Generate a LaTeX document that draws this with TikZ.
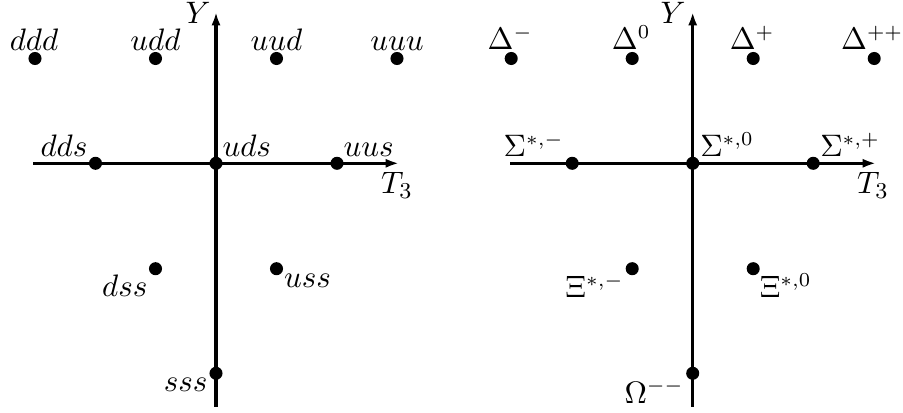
\documentclass[tikz,border=0pt]{standalone}
\usetikzlibrary{arrows.meta,calc}
\begin{document}
\begin{tikzpicture}[x=0.3527pt,y=-0.3527pt,
  dot/.style={circle,fill=black,inner sep=0pt,minimum size=4.6pt},
  axis/.style={line width=1.2pt,-{Latex[length=4.7pt,width=3.2pt]}},
  lab/.style={inner sep=0pt,font=\fontsize{11}{13}\selectfont},
  glab/.style={inner sep=0pt,font=\fontsize{10.5}{12.5}\selectfont}]
\useasboundingbox (0,0) rectangle (903,413);
% ---------- left diagram ----------
\coordinate (LW) at (33,163.3);
\coordinate (LE) at (399,163.3);
\coordinate (LS) at (216,407);
\coordinate (LN) at (216,12);
\draw[axis] (LW) -- (LE);
\draw[axis] (LS) -- (LN);
\node[dot] (ddd) at (35,58.5) {};
\node[dot] (udd) at (155.5,58.5) {};
\node[dot] (uud) at (276.5,58.5) {};
\node[dot] (uuu) at (397,58.5) {};
\node[dot] (dds) at (95.5,163.3) {};
\node[dot] (uds) at (216,163.3) {};
\node[dot] (uus) at (337,163.3) {};
\node[dot] (dss) at (155.5,268.7) {};
\node[dot] (uss) at (276.5,268.7) {};
\node[dot] (sss) at (216,373.3) {};
\node[lab,anchor=base] at ($(ddd)+(-1,-7.5)$) {$ddd$};
\node[lab,anchor=base] at ($(udd)+(0,-7.5)$) {$udd$};
\node[lab,anchor=base] at ($(uud)+(0,-7.5)$) {$uud$};
\node[lab,anchor=base] at ($(uuu)+(0,-7.5)$) {$uuu$};
\node[lab,anchor=base east] at ($(dds)+(-7.5,-6.3)$) {$dds$};
\node[lab,anchor=base west] at ($(uds)+(6,-6.3)$) {$uds$};
\node[lab,anchor=base west] at ($(uus)+(6,-6.3)$) {$uus$};
\node[lab,anchor=base east] at ($(dss)+(-7.5,28)$) {$dss$};
\node[lab,anchor=base west] at ($(uss)+(7,19)$) {$uss$};
\node[lab,anchor=base east] at ($(sss)+(-8,18.7)$) {$sss$};
\node[lab,anchor=base east] (LY) at ($(LN)+(-5,12)$) {$Y$};
\node[lab,anchor=north] (LT) at ($(LE)+(-2,8.7)$) {$T_3$};
% ---------- right diagram ----------
\coordinate (RW) at (510,163.3);
\coordinate (RE) at (876,163.3);
\coordinate (RS) at (692.7,407);
\coordinate (RN) at (692.7,12);
\draw[axis] (RW) -- (RE);
\draw[axis] (RS) -- (RN);
\node[dot] (dm) at (511.2,58.5) {};
\node[dot] (d0) at (632.2,58.5) {};
\node[dot] (dp) at (753.2,58.5) {};
\node[dot] (dpp) at (874.2,58.5) {};
\node[dot] (sm) at (572.2,163.3) {};
\node[dot] (s0) at (692.7,163.3) {};
\node[dot] (sp) at (813.2,163.3) {};
\node[dot] (xm) at (632.2,268.7) {};
\node[dot] (x0) at (753.2,268.7) {};
\node[dot] (om) at (692.7,373.3) {};
\node[glab,anchor=base] at ($(dm)+(-1,-8.5)$) {$\Delta^-$};
\node[glab,anchor=base] at ($(d0)+(-1,-8.5)$) {$\Delta^0$};
\node[glab,anchor=base] at ($(dp)+(-1,-8.5)$) {$\Delta^+$};
\node[glab,anchor=base] at ($(dpp)+(-2,-8.5)$) {$\Delta^{++}$};
\node[glab,anchor=base east] at ($(sm)+(-8,-6.6)$) {$\Sigma^{*,-}$};
\node[glab,anchor=base west] at ($(s0)+(7,-6.6)$) {$\Sigma^{*,0}$};
\node[glab,anchor=base west] at ($(sp)+(6.5,-6.6)$) {$\Sigma^{*,+}$};
\node[glab,anchor=base east] at ($(xm)+(-8,29)$) {$\Xi^{*,-}$};
\node[glab,anchor=base west] at ($(x0)+(6,29)$) {$\Xi^{*,0}$};
\node[glab,anchor=base east] at ($(om)+(-8.3,29.7)$) {$\Omega^{--}$};
\node[lab,anchor=base east] (RY) at ($(RN)+(-6.5,12)$) {$Y$};
\node[lab,anchor=north] (RT) at ($(RE)+(-3,8.7)$) {$T_3$};
\end{tikzpicture}
\end{document}
